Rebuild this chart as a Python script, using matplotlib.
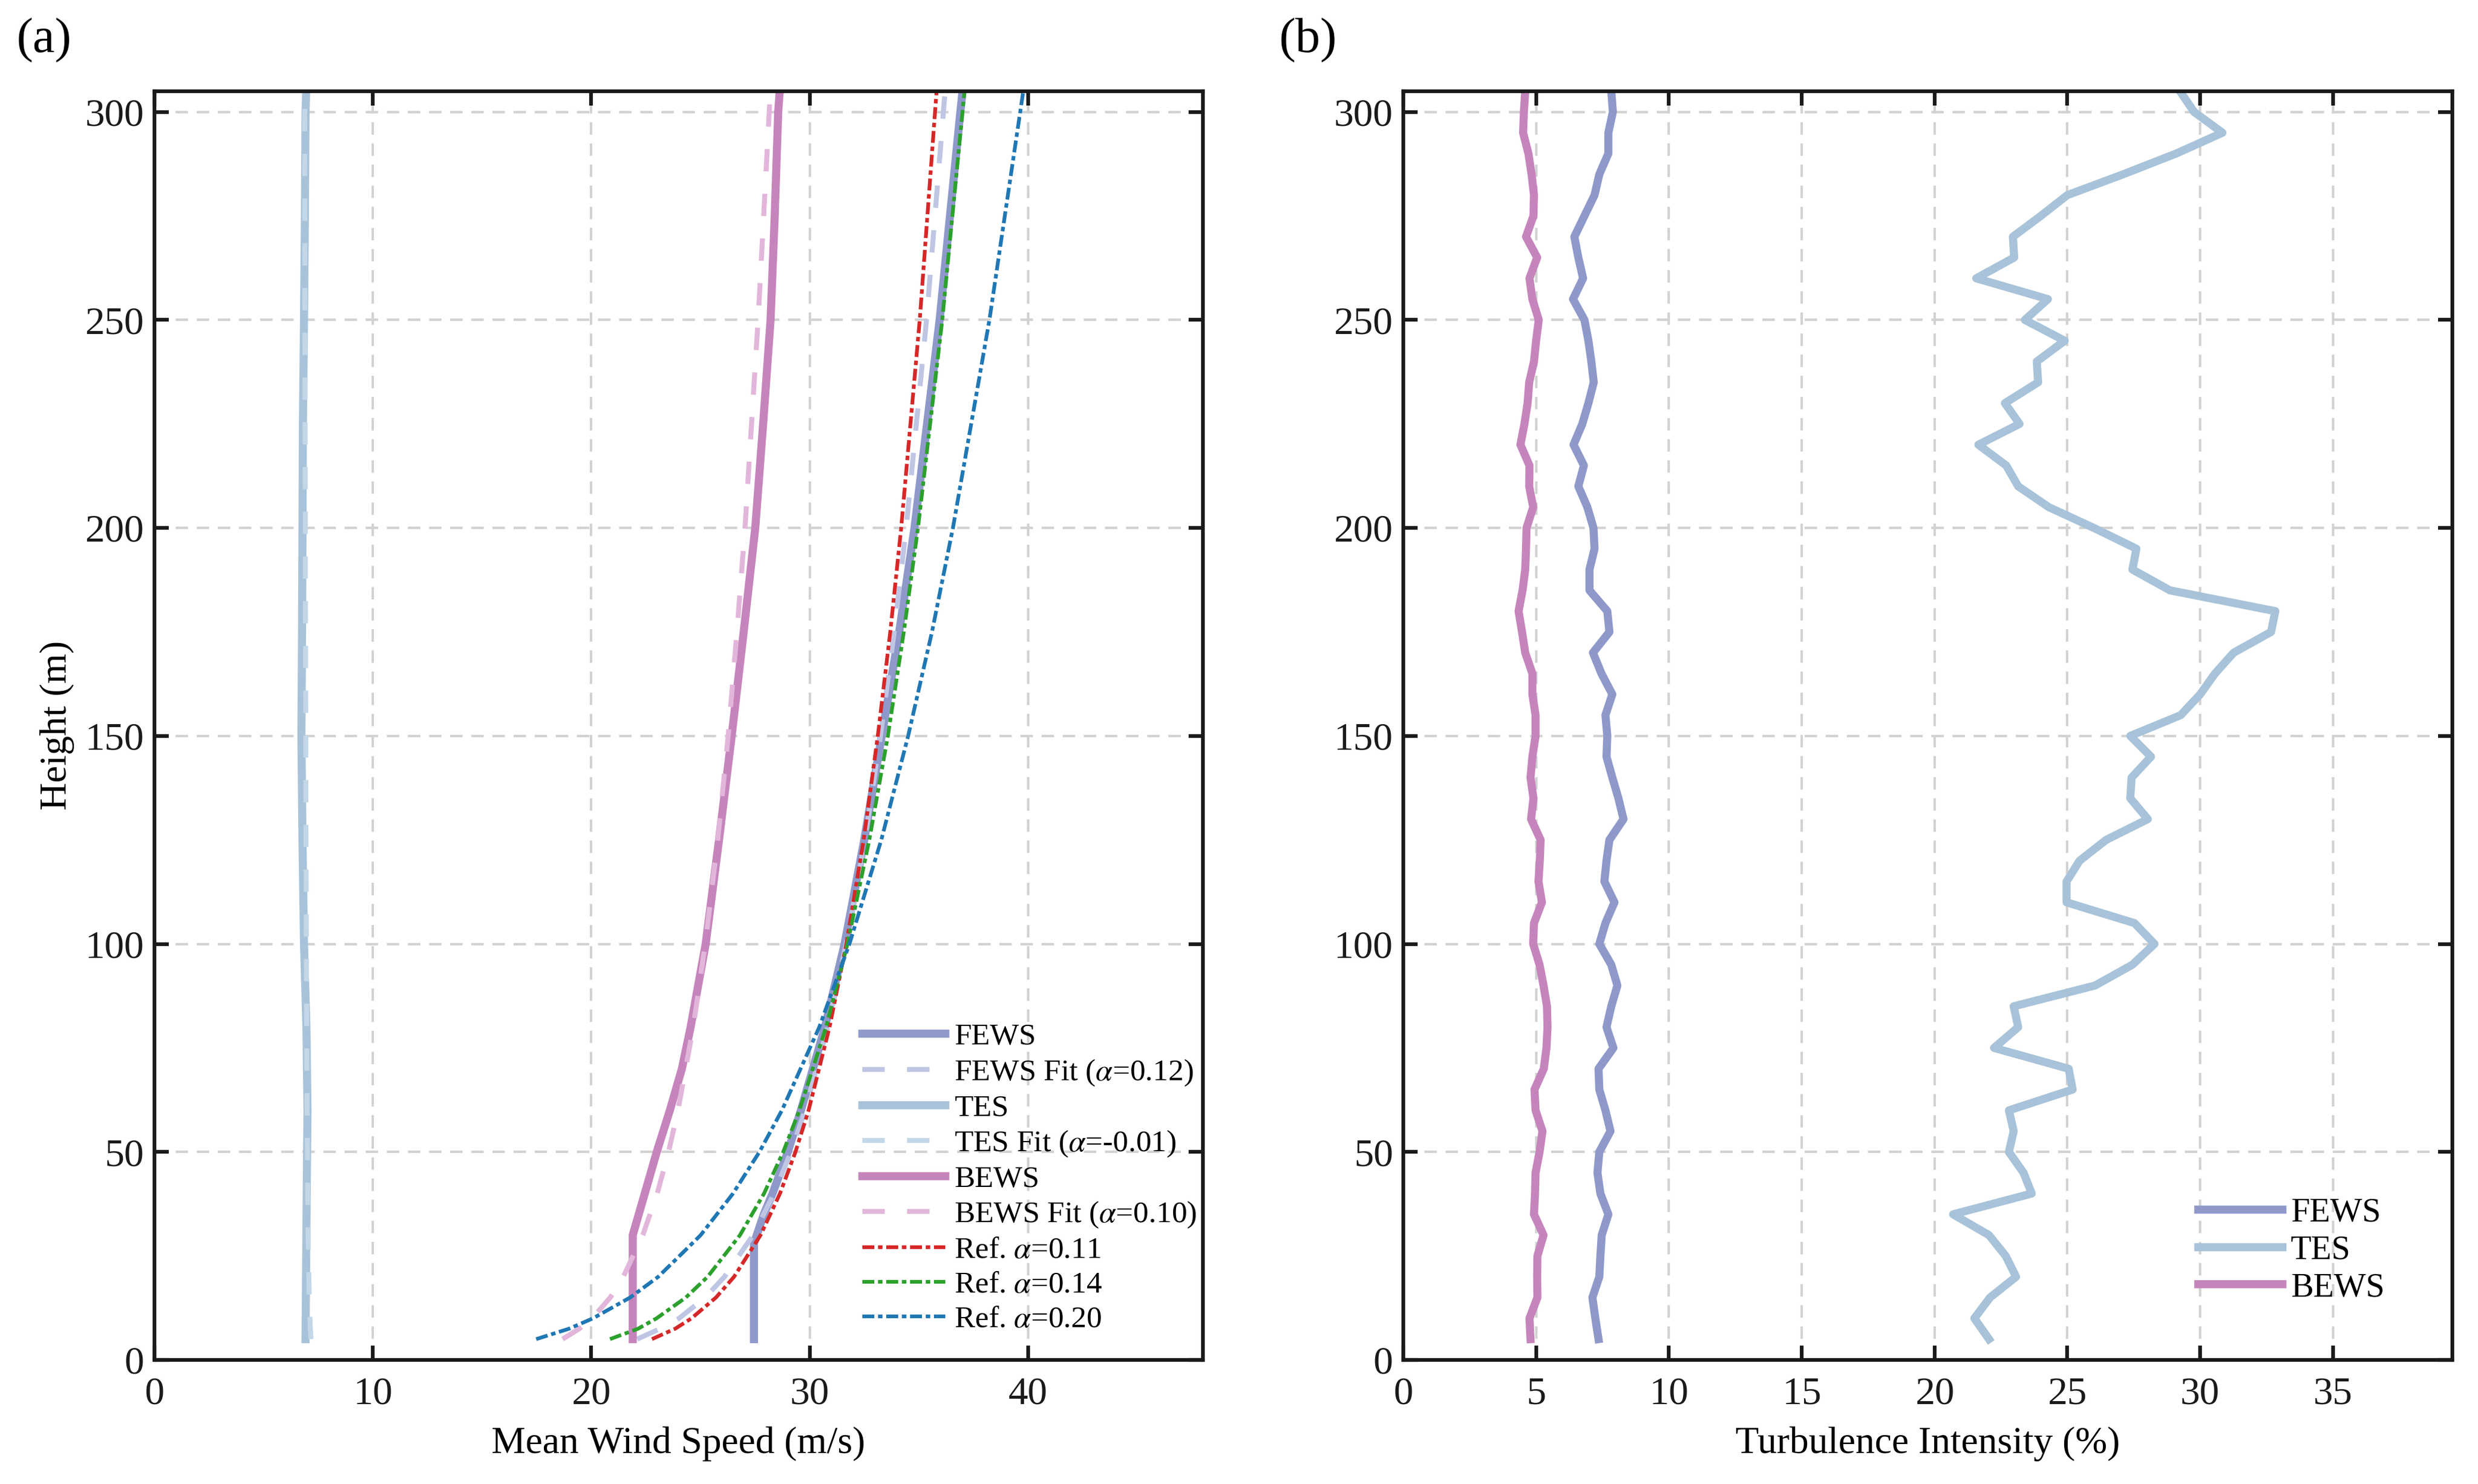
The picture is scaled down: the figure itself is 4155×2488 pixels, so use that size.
import matplotlib
matplotlib.use("Agg")
import matplotlib.pyplot as plt

plt.rcParams['font.family'] = ['Liberation Serif', 'DejaVu Serif']
plt.rcParams['mathtext.fontset'] = 'stix'

# ---- panel (a): mean wind speed profiles ----
h_tes = [5, 25, 50, 60, 80, 100, 125, 150, 175, 200, 225, 250, 275, 300, 305]
tes_ws = [6.92, 6.95, 6.99, 7.01, 6.96, 6.85, 6.78, 6.73, 6.76, 6.78, 6.80, 6.85, 6.89, 6.92, 6.95]

h_fews = [5, 28, 35, 40, 50, 60, 80, 100, 125, 150, 175, 200, 250, 300, 305]
fews_ws = [27.45, 27.45, 27.9, 28.3, 29.0, 29.6, 30.7, 31.6, 32.5, 33.3, 34.1, 34.8, 35.95, 36.9, 37.0]

h_bews = [5, 30, 40, 50, 60, 70, 80, 100, 125, 150, 175, 200, 225, 250, 275, 300, 305]
bews_ws = [21.9, 21.9, 22.45, 23.0, 23.6, 24.15, 24.55, 25.24, 25.85, 26.43, 26.98, 27.51,
           27.87, 28.21, 28.4, 28.56, 28.63]

h_fit = [5, 7.5, 10, 15, 20, 30, 40, 50, 60, 80, 100, 125, 150, 175, 200, 250, 305]
fews_fit = [22.10, 23.15, 24.02, 25.22, 26.10, 27.41, 28.37, 29.14, 29.79, 30.83, 31.67, 32.53,
            33.24, 33.87, 34.42, 35.35, 36.20]
tes_fit = [7.17, 7.14, 7.12, 7.09, 7.07, 7.04, 7.02, 7.01, 6.99, 6.97, 6.96, 6.94, 6.93, 6.92,
           6.91, 6.89, 6.88]
bews_fit = [18.69, 19.45, 20.04, 20.87, 21.47, 22.36, 23.02, 23.54, 23.97, 24.67, 25.22, 25.79,
            26.27, 26.67, 27.04, 27.64, 28.20]
ref_011 = [22.78, 23.84, 24.59, 25.71, 26.54, 27.75, 28.64, 29.35, 29.95, 30.91, 31.68, 32.47,
           33.12, 33.69, 34.19, 35.04, 35.81]
ref_014 = [20.86, 22.14, 22.99, 24.33, 25.33, 26.81, 27.91, 28.79, 29.53, 30.75, 31.73, 32.73,
           33.58, 34.31, 34.96, 36.07, 37.09]
ref_020 = [17.48, 18.98, 20.08, 21.78, 23.07, 25.01, 26.49, 27.70, 28.73, 30.44, 31.82, 33.28,
           34.51, 35.60, 36.56, 38.23, 39.78]

# ---- panel (b): turbulence intensity, every 5 m from 5 to 305 ----
h_ti = list(range(5, 310, 5))
fews_ti = [7.35, 7.23, 7.12, 7.38, 7.42, 7.47, 7.72, 7.42, 7.31, 7.38,
           7.80, 7.61, 7.38, 7.35, 7.91, 7.65, 7.83, 8.06, 7.83, 7.38,
           7.61, 7.95, 7.57, 7.65, 7.76, 8.29, 8.10, 7.87, 7.65, 7.68,
           7.61, 7.87, 7.46, 7.14, 7.76, 7.68, 7.01, 7.01, 7.20, 7.16,
           6.93, 6.59, 6.80, 6.41, 6.74, 6.97, 7.17, 7.08, 6.97, 6.82,
           6.39, 6.77, 6.59, 6.44, 6.82, 7.20, 7.38, 7.72, 7.72, 7.89, 7.83]
tes_ti = [22.05, 21.5, 22.09, 23.07, 22.68, 22.05, 20.7, 23.66, 23.35, 22.8,
          22.98, 22.8, 25.2, 25.05, 22.24, 23.15, 22.98, 26.04, 27.45, 28.28,
          27.53, 24.97, 24.97, 25.46, 26.46, 28.03, 27.37, 27.42, 28.15, 27.37,
          29.27, 30.0, 30.56, 31.26, 32.67, 32.83, 28.86, 27.45, 27.6, 26.0,
          24.3, 23.15, 22.7, 21.65, 23.2, 22.65, 23.9, 23.85, 24.9, 23.4,
          24.27, 21.57, 23.0, 22.95, 24.0, 25.0, 27.1, 29.1, 30.84, 29.77, 29.24]
bews_ti = [4.79, 4.75, 5.05, 5.04, 5.05, 5.28, 4.92, 4.96, 4.98, 5.13,
           5.24, 4.98, 4.94, 5.29, 5.39, 5.43, 5.41, 5.28, 5.13, 4.89,
           4.92, 5.22, 5.09, 5.14, 5.17, 4.81, 4.90, 4.79, 4.86, 4.98,
           4.98, 4.86, 4.86, 4.59, 4.47, 4.34, 4.49, 4.59, 4.62, 4.64,
           4.89, 4.74, 4.75, 4.41, 4.56, 4.68, 4.74, 4.92, 5.00, 5.10,
           4.86, 4.75, 5.04, 4.62, 4.90, 4.92, 4.83, 4.71, 4.51, 4.54, 4.59]

c_fews, c_tes, c_bews = '#8E99CA', '#A8C3D9', '#C585BC'
c_fews_fit, c_tes_fit, c_bews_fit = '#BFC6E4', '#C4D7E7', '#E2B6DA'
c_red, c_green, c_blue = '#D62728', '#2CA02C', '#1F77B4'

lw_data = 3.9
lw_fit = 2.4
lw_ref = 1.8
fit_dash = (0, (4.5, 4.5))
ref_dash = (0, (3.2, 1.0, 1.2, 1.0))
fs = 18.5

fig = plt.figure(figsize=(16.62, 9.952), dpi=250)
ax1 = fig.add_axes([0.0623, 0.0836, 0.4231, 0.855])
ax2 = fig.add_axes([0.5663, 0.0836, 0.4234, 0.855])


def style_axes(ax):
    ax.grid(True, color='#D2D2D2', linestyle=(0, (5, 3.5)), linewidth=1.2)
    ax.set_axisbelow(True)
    for s in ax.spines.values():
        s.set_linewidth(1.8)
        s.set_color('#1a1a1a')
    ax.tick_params(direction='in', top=True, right=True, length=7, width=1.8,
                   labelsize=19, colors='#1a1a1a')
    ax.tick_params(axis='x', pad=8)
    ax.tick_params(axis='y', pad=5)


ax1.plot(fews_ws, h_fews, color=c_fews, lw=lw_data, label='FEWS')
ax1.plot(fews_fit, h_fit, color=c_fews_fit, lw=lw_fit, ls=fit_dash, label=r'FEWS Fit ($\alpha$=0.12)')
ax1.plot(tes_ws, h_tes, color=c_tes, lw=lw_data, label='TES')
ax1.plot(tes_fit, h_fit, color=c_tes_fit, lw=lw_fit, ls=fit_dash, label=r'TES Fit ($\alpha$=-0.01)')
ax1.plot(bews_ws, h_bews, color=c_bews, lw=lw_data, label='BEWS')
ax1.plot(bews_fit, h_fit, color=c_bews_fit, lw=lw_fit, ls=fit_dash, label=r'BEWS Fit ($\alpha$=0.10)')
ax1.plot(ref_011, h_fit, color=c_red, lw=lw_ref, ls=ref_dash, label=r'Ref. $\alpha$=0.11')
ax1.plot(ref_014, h_fit, color=c_green, lw=lw_ref, ls=ref_dash, label=r'Ref. $\alpha$=0.14')
ax1.plot(ref_020, h_fit, color=c_blue, lw=lw_ref, ls=ref_dash, label=r'Ref. $\alpha$=0.20')

ax1.set_xlim(0, 48)
ax1.set_ylim(0, 305)
ax1.set_xticks([0, 10, 20, 30, 40])
ax1.set_yticks([0, 50, 100, 150, 200, 250, 300])
style_axes(ax1)
ax1.set_xlabel('Mean Wind Speed (m/s)', fontsize=fs, labelpad=7)
ax1.set_ylabel('Height (m)', fontsize=fs, labelpad=5)
ax1.legend(loc='lower left', bbox_to_anchor=(0.655, 0.004), frameon=False, fontsize=14.8,
           handlelength=2.7, handletextpad=0.3, labelspacing=0.21, borderpad=0.2)

ax2.plot(fews_ti, h_ti, color=c_fews, lw=lw_data, label='FEWS')
ax2.plot(tes_ti, h_ti, color=c_tes, lw=lw_data, label='TES')
ax2.plot(bews_ti, h_ti, color=c_bews, lw=lw_data, label='BEWS')
ax2.set_xlim(0, 39.5)
ax2.set_ylim(0, 305)
ax2.set_xticks([0, 5, 10, 15, 20, 25, 30, 35])
ax2.set_yticks([0, 50, 100, 150, 200, 250, 300])
style_axes(ax2)
ax2.set_xlabel('Turbulence Intensity (%)', fontsize=fs, labelpad=7)
ax2.legend(loc='lower left', bbox_to_anchor=(0.735, 0.026), frameon=False, fontsize=16.3,
           handlelength=2.5, handletextpad=0.25, labelspacing=0.19, borderpad=0.2)

fig.text(0.0065, 0.988, '(a)', fontsize=24, va='top', ha='left')
fig.text(0.516, 0.988, '(b)', fontsize=24, va='top', ha='left')

fig.savefig('out.png', dpi=250, facecolor='white')
